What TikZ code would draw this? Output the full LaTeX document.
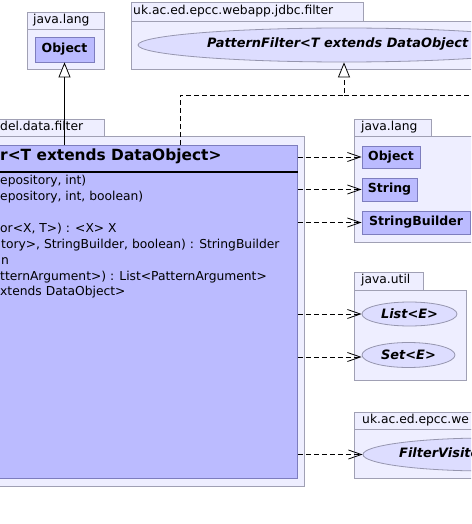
\documentclass[tikz,border=0pt]{standalone}
\usepackage{fontspec}
\setmainfont{DejaVu Sans}
\usetikzlibrary{arrows.meta,shapes.geometric}
\definecolor{pkgfill}{RGB}{238,238,255}
\definecolor{pkgline}{RGB}{160,160,180}
\definecolor{clsfill}{RGB}{187,187,255}
\definecolor{clsline}{RGB}{125,125,190}
\definecolor{ellfill}{RGB}{221,221,255}
\definecolor{ellline}{RGB}{150,150,175}
\tikzset{
  pkg/.style={draw=pkgline, fill=pkgfill, line width=0.8pt},
  pkglabel/.style={font=\fontsize{12.3}{14}\selectfont, anchor=mid west, inner sep=0pt},
  cls/.style={draw=clsline, fill=clsfill, line width=0.8pt, font=\fontsize{12.5}{15}\selectfont\bfseries, inner sep=0pt},
  ell/.style={ellipse, draw=ellline, fill=ellfill, line width=0.8pt, inner sep=0pt},
  elltextfont/.style={font=\fontsize{12.9}{15}\selectfont\bfseries\itshape, inner sep=0pt},
  elltext/.style={elltextfont, anchor=mid west},
  member/.style={font=\fontsize{12.3}{14}\selectfont, inner sep=0pt, anchor=mid west},
  dep/.style={draw, line width=0.8pt, dash pattern=on 5pt off 3pt, -{Straight Barb[length=13pt,width=9pt]}},
  inh/.style={draw, line width=0.8pt, -{Triangle[length=15pt,width=12pt,fill=white]}},
  real/.style={draw, line width=0.8pt, dash pattern=on 5pt off 3pt, -{Triangle[length=15pt,width=12pt,fill=white]}},
}
\begin{document}
\begin{tikzpicture}[x=1pt,y=-1pt]
\useasboundingbox (0,0) rectangle (471,524);
\clip (0,0) rectangle (471,524);
\fill[white] (0,0) rectangle (471,524);

% package java.lang (top left)
\path[pkg] (27,12) rectangle (104,29);
\path[pkg] (27,29) rectangle (104,69);
\node[pkglabel] (lblA) at (33,21) {java.lang};
\node[cls, minimum width=59pt, minimum height=25pt] (objL) at (64.5,49.5) {Object};

% package uk.ac.ed.epcc.webapp.jdbc.filter
\path[pkg] (131,2) rectangle (363,21);
\path[pkg] (131,21) rectangle (480,69);
\node[pkglabel] (lblB) at (133,12) {uk.ac.ed.epcc.webapp.jdbc.filter};
\node[ell, minimum width=412pt, minimum height=34pt] (pf) at (344,45) {};
\node[elltext] (pft) at (207,45) {PatternFilter<T extends DataObject};

% main package
\path[pkg] (-10,119) rectangle (104,136);
\path[pkg] (-10,136) rectangle (304,486);
\node[pkglabel] (lblM) at (0,127.5) {del.data.filter};
\node[cls, minimum width=307pt, minimum height=333pt, anchor=north west] (main) at (-10,145) {};
\draw[line width=1.6pt] (main.west |- 0,172) -- (main.east |- 0,172);
\node[font=\fontsize{15.4}{18}\selectfont\bfseries, inner sep=0pt, anchor=mid west] (title) at (0,158) {r<T extends DataObject>};
\node[member] (m1) at (0,182) {epository, int)};
\node[member] (m2) at (0,197.5) {epository, int, boolean)};
\node[member] (m3) at (0,230) {or<X, T>) : <X> X};
\node[member] (m4) at (1,246) {tory>, StringBuilder, boolean) : StringBuilder};
\node[member] (m5) at (1,261.5) {n};
\node[member] (m6) at (0,277.5) {tternArgument>) : List<PatternArgument>};
\node[member] (m7) at (0,293) {xtends DataObject>};

% package java.lang (right)
\path[pkg] (354,119) rectangle (431,136);
\path[pkg] (354,136) rectangle (475,242);
\node[pkglabel] (lblC) at (361,127.5) {java.lang};
\node[cls, minimum width=58pt, minimum height=22pt] (objR) at (391,157) {Object};
\node[cls, minimum width=55pt, minimum height=23pt] (str) at (389.5,189.5) {String};
\node[cls, minimum width=108pt, minimum height=23pt] (sb) at (416,222.5) {StringBuilder};

% package java.util
\path[pkg] (354,272) rectangle (423,290);
\path[pkg] (354,290) rectangle (466,380);
\node[pkglabel] (lblD) at (361,281) {java.util};
\node[ell, minimum width=95pt, minimum height=24pt] (list) at (409.5,314) {};
\node[elltextfont] (listt) at (list.center) {List<E>};
\node[ell, minimum width=93pt, minimum height=25pt] (set) at (408.5,355) {};
\node[elltextfont] (sett) at (set.center) {Set<E>};

% package uk.ac.ed.epcc.we...
\path[pkg] (354,412) rectangle (480,429);
\path[pkg] (354,429) rectangle (480,478);
\node[pkglabel] (lblE) at (362,420.5) {uk.ac.ed.epcc.we};
\node[ell, minimum width=250pt, minimum height=33pt] (fv) at (488,454.5) {};
\node[elltext] (fvt) at (399,454.5) {FilterVisite};

% connectors
\draw[inh] (main.north -| objL.south) -- (objL.south);
\coordinate (bend1) at (180,95);
\coordinate (offR) at (480,95);
\draw[real] (main.north -| bend1) -- (bend1) -| (pf.south);
\draw[dash pattern=on 5pt off 3pt, line width=0.8pt] (bend1 -| pf.south) -- (offR);
\draw[dep] (main.east |- objR.west) -- (objR.west);
\draw[dep] (main.east |- str.west) -- (str.west);
\draw[dep] (main.east |- sb.west) -- (sb.west);
\draw[dep] (main.east |- list.west) -- (list.west);
\draw[dep] (main.east |- 0,357) -- (set.west |- 0,357);
\draw[dep] (main.east |- fv.west) -- (fv.west);
\end{tikzpicture}
\end{document}
